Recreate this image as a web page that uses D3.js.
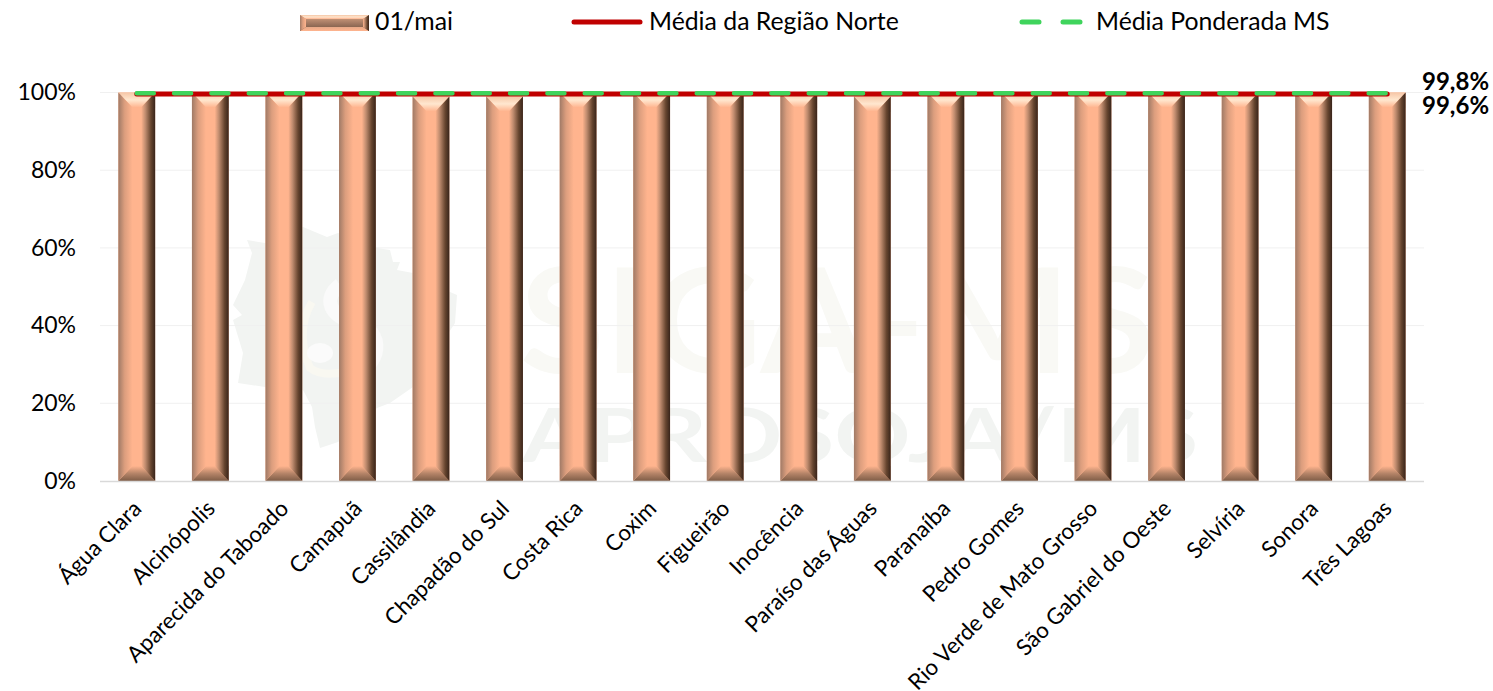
<!DOCTYPE html>
<html>
<head>
<meta charset="utf-8">
<script src="https://cdn.jsdelivr.net/npm/d3@7"></script>
<style>
  html, body { margin: 0; padding: 0; background: #fff; }
  text { font-family: Lato, "Open Sans", sans-serif; fill: #000; }
</style>
</head>
<body>
<div id="chart"></div>
<script>
const cidades = ["Água Clara", "Alcinópolis", "Aparecida do Taboado", "Camapuã", "Cassilândia",
  "Chapadão do Sul", "Costa Rica", "Coxim", "Figueirão", "Inocência", "Paraíso das Águas",
  "Paranaíba", "Pedro Gomes", "Rio Verde de Mato Grosso", "São Gabriel do Oeste", "Selvíria",
  "Sonora", "Três Lagoas"];
const valores = [100, 100, 100, 100, 99, 99, 100, 100, 100, 100, 99, 100, 100, 100, 100, 100, 100, 100];
const mediaNorte = [99.6, 99.6, 99.6, 99.6, 99.6, 99.6, 99.6, 99.6, 99.6, 99.6, 99.6, 99.6, 99.6, 99.6, 99.6, 99.6, 99.6, 99.6];
const mediaMS = [99.8, 99.8, 99.8, 99.8, 99.8, 99.8, 99.8, 99.8, 99.8, 99.8, 99.8, 99.8, 99.8, 99.8, 99.8, 99.8, 99.8, 99.8];
const ticks = [0, 20, 40, 60, 80, 100];
const rotulos = ["99,8%", "99,6%"];

const WIDTH = 1493, HEIGHT = 691;
const LEFT = 100, RIGHT = 1424, TOP = 92.5, BOTTOM = 481;
const RED = "#c00000", GREEN = "#3fd45c";
const FONT_SIZE = 23, XLABEL_SIZE = 22.4, LEGEND_SIZE = 24.8;

const svg = d3.select("#chart").append("svg")
  .attr("width", WIDTH).attr("height", HEIGHT)
  .style("display", "block");

const x = d3.scaleBand().domain(cidades).range([LEFT, RIGHT]).paddingInner(0.5).paddingOuter(0.25);
const y = d3.scaleLinear().domain([0, 100]).range([BOTTOM, TOP]);

// bevel gradients
const defs = svg.append("defs");
function gradient(id, dir, stops) {
  const g = defs.append("linearGradient").attr("id", id)
    .attr("x1", dir[0]).attr("y1", dir[1]).attr("x2", dir[2]).attr("y2", dir[3]);
  stops.forEach(s => g.append("stop").attr("offset", s[0]).attr("stop-color", s[1]));
}
gradient("bevelLeft", [0, 0, 1, 0], [[0, "#a07a66"], [0.45, "#dc9e7e"], [1, "#ffb48e"]]);
gradient("bevelRight", [0, 0, 1, 0], [[0, "#ffb48e"], [0.3, "#c08c6f"], [0.7, "#66452f"], [1, "#38241a"]]);
gradient("bevelTop", [0, 0, 0, 1], [[0, "#f6c6a6"], [0.5, "#ffe7cf"], [1, "#ffb48e"]]);
gradient("bevelBottom", [0, 0, 0, 1], [[0, "#ffb48e"], [0.5, "#b58468"], [1, "#7e5c46"]]);
gradient("legendMid", [0, 0, 0, 1], [[0, "#dca686"], [1, "#6e5040"]]);
gradient("legendBottom", [0, 0, 0, 1], [[0, "#e6a988"], [1, "#ffb48e"]]);

// watermark behind the grid
const mark = svg.append("g").attr("class", "watermark");
const contorno = [[247, 240], [265, 243], [303, 227], [327, 237], [338, 233], [377, 248], [390, 250], [393, 262],
  [400, 262], [397, 270], [413, 273], [450, 292], [457, 295], [455, 323], [413, 387], [390, 403], [377, 408],
  [338, 442], [320, 448], [315, 427], [312, 407], [303, 390], [265, 387], [238, 383], [243, 353], [233, 320],
  [242, 315], [233, 305], [245, 280], [252, 253]];
mark.append("path").attr("fill", "#f2f4f2").attr("d", d3.line().curve(d3.curveLinearClosed)(contorno));
mark.append("path").attr("fill", "none").attr("stroke", "#fafafa").attr("stroke-width", 14)
  .attr("d", "M340,285C322,298 330,318 355,322C385,330 385,368 345,378");
mark.append("path").attr("fill", "none").attr("stroke", "#f9f8f1").attr("stroke-width", 8)
  .attr("d", "M312,302C298,325 302,350 310,368C320,376 335,374 345,372");
mark.append("ellipse").attr("cx", 320).attr("cy", 353).attr("rx", 13).attr("ry", 10).attr("fill", "#fbfbfb");
mark.append("text").attr("x", 520).attr("y", 373)
  .attr("font-size", 145).attr("font-weight", 700).attr("textLength", 635).attr("lengthAdjust", "spacingAndGlyphs")
  .style("fill", "#f9f9f5").text("SIGA-MS");
mark.append("text").attr("x", 522).attr("y", 462)
  .attr("font-size", 74).attr("font-weight", 700).attr("textLength", 676).attr("lengthAdjust", "spacingAndGlyphs")
  .style("fill", "#f2f4f2").text("APROSOJA/MS");

// grid
svg.append("g").selectAll("line").data(ticks.filter(d => d > 0)).enter().append("line")
  .attr("x1", LEFT).attr("x2", RIGHT)
  .attr("y1", d => y(d)).attr("y2", d => y(d))
  .attr("stroke", "#f0f0f0").attr("stroke-width", 1);

// y axis
const yAxis = svg.append("g").attr("transform", "translate(" + LEFT + ",0)")
  .call(d3.axisLeft(y).tickValues(ticks).tickSize(0).tickPadding(24).tickFormat(d => d + "%"));
yAxis.select(".domain").remove();
yAxis.selectAll("text").attr("font-size", FONT_SIZE).style("font-family", "Lato, sans-serif");

// beveled bar
function drawBevel(g, bx, by, w, h, inset, side, body, bottom) {
  g.append("rect").attr("x", bx).attr("y", by).attr("width", w).attr("height", h).attr("fill", body || "#ffb48e");
  g.append("path").attr("fill", "url(#bevelTop)")
    .attr("d", `M${bx},${by}H${bx + w}L${bx + w - side},${by + inset}H${bx + side}Z`);
  g.append("path").attr("fill", bottom || "url(#bevelBottom)")
    .attr("d", `M${bx},${by + h}H${bx + w}L${bx + w - side},${by + h - inset}H${bx + side}Z`);
  g.append("path").attr("fill", "url(#bevelLeft)")
    .attr("d", `M${bx},${by}L${bx + side},${by + inset}V${by + h - inset}L${bx},${by + h}Z`);
  g.append("path").attr("fill", "url(#bevelRight)")
    .attr("d", `M${bx + w},${by}L${bx + w - side},${by + inset}V${by + h - inset}L${bx + w},${by + h}Z`);
}

const barras = svg.append("g").attr("class", "bars");
cidades.forEach((c, i) => {
  drawBevel(barras.append("g"), x(c), y(valores[i]), x.bandwidth(), BOTTOM - y(valores[i]), 15, 14);
});

// base line
svg.append("line").attr("x1", LEFT).attr("x2", RIGHT).attr("y1", BOTTOM + 0.5).attr("y2", BOTTOM + 0.5)
  .attr("stroke", "#d9d9d9").attr("stroke-width", 1.5);

// x labels
svg.append("g").selectAll("text").data(cidades).enter().append("text")
  .attr("font-size", XLABEL_SIZE)
  .attr("text-anchor", "end")
  .attr("transform", d => "translate(" + (x(d) + x.bandwidth() / 2 + 6) + ",510) rotate(-45)")
  .text(d => d);

// average lines
const linha = d3.line().x((d, i) => x(cidades[i]) + x.bandwidth() / 2).y(d => y(d));
svg.append("path").datum(mediaNorte).attr("d", linha)
  .attr("fill", "none").attr("stroke", RED).attr("stroke-width", 5).attr("stroke-linecap", "round");
svg.append("path").datum(mediaMS).attr("d", linha)
  .attr("fill", "none").attr("stroke", GREEN).attr("stroke-width", 4.5)
  .attr("stroke-dasharray", "17,20.33").attr("stroke-linecap", "round");

// end labels
svg.append("text").attr("x", 1422).attr("y", 90).attr("font-size", 24).attr("font-weight", 700).text(rotulos[0]);
svg.append("text").attr("x", 1422).attr("y", 114).attr("font-size", 24).attr("font-weight", 700).text(rotulos[1]);

// legend
const leg = svg.append("g");
drawBevel(leg.append("g"), 300, 15, 69, 16, 4, 6, "url(#legendMid)", "url(#legendBottom)");
leg.append("text").attr("x", 375).attr("y", 30).attr("font-size", LEGEND_SIZE).text("01/mai");
leg.append("line").attr("x1", 574).attr("x2", 640).attr("y1", 22).attr("y2", 22)
  .attr("stroke", RED).attr("stroke-width", 5).attr("stroke-linecap", "round");
leg.append("text").attr("x", 649).attr("y", 30).attr("font-size", LEGEND_SIZE).text("Média da Região Norte");
leg.append("line").attr("x1", 1022).attr("x2", 1085).attr("y1", 22).attr("y2", 22)
  .attr("stroke", GREEN).attr("stroke-width", 5).attr("stroke-dasharray", "17,24").attr("stroke-linecap", "round");
leg.append("text").attr("x", 1096).attr("y", 30).attr("font-size", LEGEND_SIZE).text("Média Ponderada MS");
</script>
</body>
</html>
